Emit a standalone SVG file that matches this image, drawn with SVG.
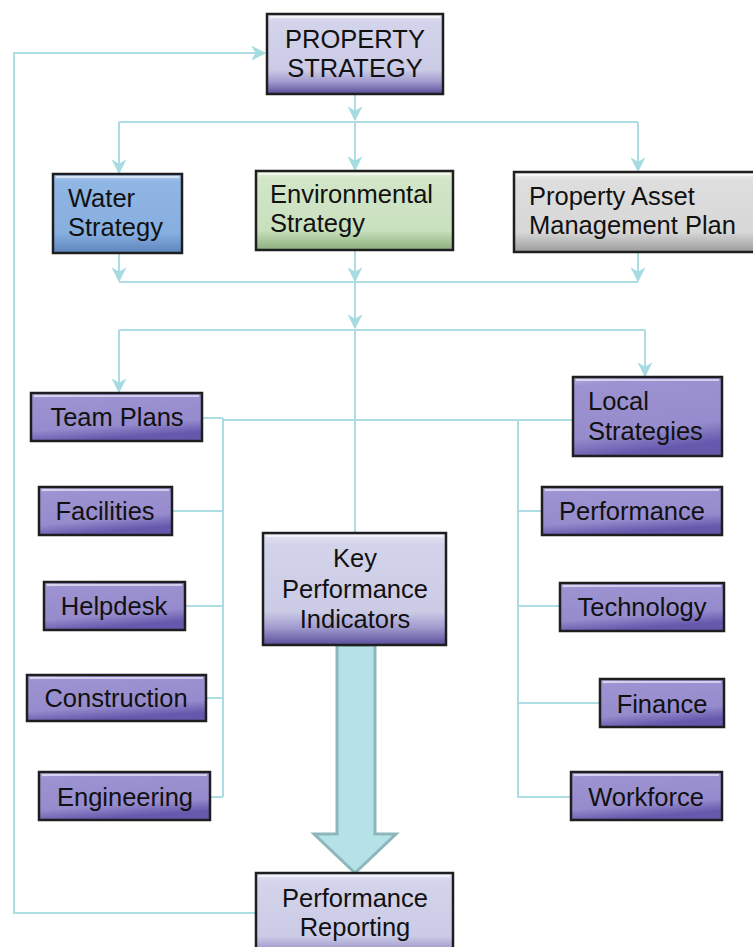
<svg xmlns="http://www.w3.org/2000/svg" width="753" height="947" viewBox="0 0 753 947">
  <style>
    .box { stroke: #1e1e1e; stroke-width: 2.5; }
    .hl { fill: none; stroke: #ffffff; stroke-opacity: 0.55; stroke-width: 2; }
    .lbl { font-family: "Liberation Sans", Arial, sans-serif; font-size: 25.5px; fill: #111; }
    .mid { text-anchor: middle; }
    .conn { fill: none; stroke: #addde3; stroke-width: 2; }
    .arr { marker-end: url(#chev); }
  </style>
  <defs>
    <marker id="chev" viewBox="0 0 12 12" refX="11" refY="6" markerWidth="15" markerHeight="15" markerUnits="userSpaceOnUse" orient="auto">
      <path d="M0,0 L12,6 L0,12 L3.5,6 z" fill="#a6dbe1"/>
    </marker>
    <linearGradient id="gLav" x1="0" y1="0" x2="0" y2="1">
      <stop offset="0" stop-color="#e6e6f4"/>
      <stop offset="0.1" stop-color="#d3d3eb"/>
      <stop offset="0.7" stop-color="#cbcbe6"/>
      <stop offset="0.84" stop-color="#a39dcf"/>
      <stop offset="1" stop-color="#5a4e9c"/>
    </linearGradient>
    <linearGradient id="gPur" x1="0" y1="0" x2="0.25" y2="1">
      <stop offset="0" stop-color="#b9b1e0"/>
      <stop offset="0.12" stop-color="#9d93d2"/>
      <stop offset="0.75" stop-color="#968bcc"/>
      <stop offset="1" stop-color="#6558ad"/>
    </linearGradient>
    <linearGradient id="gBlue" x1="0" y1="0" x2="0" y2="1">
      <stop offset="0" stop-color="#b0cdf0"/>
      <stop offset="0.1" stop-color="#90b6e4"/>
      <stop offset="0.75" stop-color="#86aedf"/>
      <stop offset="1" stop-color="#5d84bd"/>
    </linearGradient>
    <linearGradient id="gGreen" x1="0" y1="0" x2="0" y2="1">
      <stop offset="0" stop-color="#e6f2df"/>
      <stop offset="0.1" stop-color="#d2e6c8"/>
      <stop offset="0.75" stop-color="#c9e0be"/>
      <stop offset="1" stop-color="#8caf7c"/>
    </linearGradient>
    <linearGradient id="gGray" x1="0" y1="0" x2="0" y2="1">
      <stop offset="0" stop-color="#f2f2f2"/>
      <stop offset="0.1" stop-color="#dedede"/>
      <stop offset="0.75" stop-color="#d7d7d7"/>
      <stop offset="1" stop-color="#9c9c9c"/>
    </linearGradient>
  </defs>

  <rect width="753" height="947" fill="#ffffff"/>

  <!-- connectors -->
  <g id="connectors">
    <path class="conn arr" d="M256,913 H14 V53 H265"/>
    <path class="conn arr" d="M355,94 V120"/>
    <path class="conn" d="M119,122 H638"/>
    <path class="conn arr" d="M119,122 V173"/>
    <path class="conn arr" d="M355,122 V170"/>
    <path class="conn arr" d="M638,122 V171"/>
    <path class="conn arr" d="M119,253 V281"/>
    <path class="conn arr" d="M355,250 V281"/>
    <path class="conn arr" d="M638,252 V281"/>
    <path class="conn" d="M119,282 H638"/>
    <path class="conn arr" d="M355,282 V328"/>
    <path class="conn" d="M119,330 H645"/>
    <path class="conn arr" d="M119,330 V392"/>
    <path class="conn arr" d="M645,330 V376"/>
    <path class="conn" d="M355,330 V533"/>
    <path class="conn" d="M202,418 H223 M223,420 H573"/>
    <path class="conn" d="M223,418 V797"/>
    <path class="conn" d="M172,511 H223 M185,606 H223 M206,698 H223 M210,797 H223"/>
    <path class="conn" d="M518,420 V798"/>
    <path class="conn" d="M518,511 H542 M518,606 H560 M518,703 H600 M518,797 H571"/>
    <polygon points="337,645 375,645 375,834 396,834 355,873 314,834 337,834" fill="#b4e2e6" stroke="#8db7ba" stroke-width="3"/>
  </g>

  <g id="property-strategy">
    <rect class="box" x="267" y="14" width="176" height="80" fill="url(#gLav)"/>
    <path class="hl" d="M270,17 H440"/>
    <text class="lbl mid" x="355" y="48">PROPERTY</text>
    <text class="lbl mid" x="355" y="77">STRATEGY</text>
  </g>

  <g id="water-strategy">
    <rect class="box" x="53" y="174" width="129" height="79" fill="url(#gBlue)"/>
    <path class="hl" d="M56,177 H179"/>
    <text class="lbl" x="68" y="207">Water</text>
    <text class="lbl" x="68" y="236">Strategy</text>
  </g>

  <g id="environmental-strategy">
    <rect class="box" x="256" y="171" width="197" height="79" fill="url(#gGreen)"/>
    <path class="hl" d="M259,174 H450"/>
    <text class="lbl" x="270" y="203">Environmental</text>
    <text class="lbl" x="270" y="232">Strategy</text>
  </g>

  <g id="property-asset-management-plan">
    <rect class="box" x="514" y="172" width="245" height="80" fill="url(#gGray)"/>
    <path class="hl" d="M517,175 H753"/>
    <text class="lbl" x="529" y="205">Property Asset</text>
    <text class="lbl" x="529" y="234">Management Plan</text>
  </g>

  <g id="team-plans">
    <rect class="box" x="31" y="393" width="171" height="48" fill="url(#gPur)"/>
    <path class="hl" d="M34,396 H199"/>
    <text class="lbl mid" x="117" y="426">Team Plans</text>
  </g>

  <g id="local-strategies">
    <rect class="box" x="573" y="377" width="149" height="79" fill="url(#gPur)"/>
    <path class="hl" d="M576,380 H719"/>
    <text class="lbl" x="588" y="410">Local</text>
    <text class="lbl" x="588" y="440">Strategies</text>
  </g>

  <g id="facilities">
    <rect class="box" x="39" y="487" width="133" height="48" fill="url(#gPur)"/>
    <path class="hl" d="M42,490 H169"/>
    <text class="lbl mid" x="105" y="520">Facilities</text>
  </g>

  <g id="helpdesk">
    <rect class="box" x="44" y="582" width="141" height="48" fill="url(#gPur)"/>
    <path class="hl" d="M47,585 H182"/>
    <text class="lbl mid" x="114" y="615">Helpdesk</text>
  </g>

  <g id="construction">
    <rect class="box" x="27" y="675" width="179" height="46" fill="url(#gPur)"/>
    <path class="hl" d="M30,678 H203"/>
    <text class="lbl mid" x="116" y="707">Construction</text>
  </g>

  <g id="engineering">
    <rect class="box" x="39" y="772" width="171" height="48" fill="url(#gPur)"/>
    <path class="hl" d="M42,775 H207"/>
    <text class="lbl mid" x="125" y="806">Engineering</text>
  </g>

  <g id="performance">
    <rect class="box" x="542" y="487" width="180" height="48" fill="url(#gPur)"/>
    <path class="hl" d="M545,490 H719"/>
    <text class="lbl mid" x="632" y="520">Performance</text>
  </g>

  <g id="technology">
    <rect class="box" x="560" y="583" width="164" height="48" fill="url(#gPur)"/>
    <path class="hl" d="M563,586 H721"/>
    <text class="lbl mid" x="642" y="616">Technology</text>
  </g>

  <g id="finance">
    <rect class="box" x="600" y="679" width="124" height="48" fill="url(#gPur)"/>
    <path class="hl" d="M603,682 H721"/>
    <text class="lbl mid" x="662" y="713">Finance</text>
  </g>

  <g id="workforce">
    <rect class="box" x="571" y="772" width="151" height="48" fill="url(#gPur)"/>
    <path class="hl" d="M574,775 H719"/>
    <text class="lbl mid" x="646" y="806">Workforce</text>
  </g>

  <g id="key-performance-indicators">
    <rect class="box" x="263" y="533" width="183" height="112" fill="url(#gLav)"/>
    <path class="hl" d="M266,536 H443"/>
    <text class="lbl mid" x="355" y="567">Key</text>
    <text class="lbl mid" x="355" y="598">Performance</text>
    <text class="lbl mid" x="355" y="628">Indicators</text>
  </g>

  <g id="performance-reporting">
    <rect class="box" x="256" y="873" width="197" height="90" fill="url(#gLav)"/>
    <path class="hl" d="M259,876 H450"/>
    <text class="lbl mid" x="355" y="907">Performance</text>
    <text class="lbl mid" x="355" y="936">Reporting</text>
  </g>
</svg>
